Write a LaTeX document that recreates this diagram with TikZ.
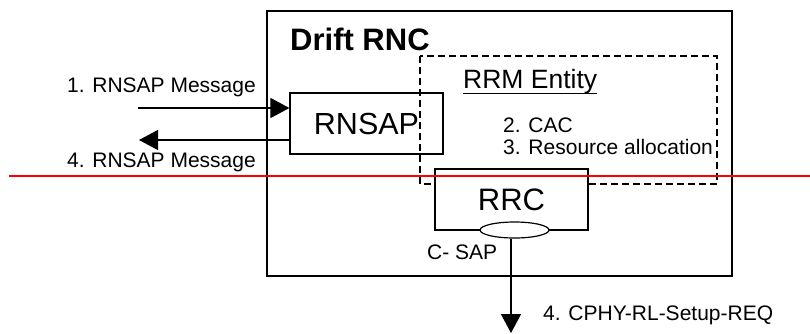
\documentclass[tikz,border=0pt]{standalone}
\usepackage{fontspec}
\setmainfont{Liberation Sans}
\usetikzlibrary{arrows.meta,shapes.geometric}
\tikzset{
  unitbox/.style     = {draw, line width=1.2pt, inner sep=0pt},
  entitybox/.style   = {draw, line width=1.4pt, dash pattern=on 7pt off 4pt},
  msglabel/.style    = {inner sep=0pt, font=\fontsize{21}{25}\selectfont},
  msgarrow/.style    = {line width=1.3pt, -{Triangle[length=19pt,width=20pt]}},
}
\begin{document}
\begin{tikzpicture}[x=1pt, y=-1pt]
        \useasboundingbox (0,0) rectangle (810,333);
        \coordinate (inbegin)   at (138, 108);
        \coordinate (outend)    at (139, 140);
        \coordinate (cphyend)   at (511, 333);
        \coordinate (redleft)   at (9,   176);
        \coordinate (redright)  at (810, 176);
        % Drift RNC
        \node[unitbox, minimum width=465pt, minimum height=265pt] (rnc) at (499.5, 143.5) {};
        \node[inner sep=0pt, anchor=base west, font=\fontsize{31}{36}\selectfont\bfseries] (rnctitle) at (290, 50) {Drift RNC};
        % RRM entity
        \draw[entitybox] (420, 56) rectangle (717, 184);
        \node[inner sep=0pt, anchor=base west, font=\fontsize{26.5}{30}\selectfont] (rrmtitle) at (463, 88) {RRM Entity};
        \draw[line width=1.2pt] (rrmtitle.south west) -- (rrmtitle.south east);
        \node[msglabel, anchor=base west] (cac) at (503, 132) {2. CAC};
        \node[msglabel, anchor=base west] (alloc) at (503, 154) {3. Resource allocation};
        % RNSAP and RRC
        \node[unitbox, minimum width=153pt, minimum height=61pt, font=\fontsize{30.5}{35}\selectfont] (rnsap) at (366.5, 123.5) {RNSAP};
        \node[unitbox, fill=white, minimum width=153pt, minimum height=61pt, font=\fontsize{31}{36}\selectfont] (rrc) at (511.5, 199.5) {RRC};
        \node[draw, ellipse, line width=1.2pt, fill=white, minimum width=69pt, minimum height=16pt, inner sep=0pt] (csap) at (514.5, 230) {};
        \node[msglabel, anchor=base west] (csaplabel) at (427, 259) {C- SAP};
        % messages
        \draw[msgarrow] (inbegin) -- (inbegin -| rnsap.west);
        \draw[msgarrow] (outend -| rnsap.west) -- (outend);
        \draw[msgarrow] (csap.south -| cphyend) -- (cphyend);
        \node[msglabel, anchor=base east] (inlabel) at (256, 92) {1. RNSAP Message};
        \node[msglabel, anchor=base east] (outlabel) at (256, 167) {4. RNSAP Message};
        \node[msglabel, anchor=base west] (cphylabel) at (543, 320) {4. CPHY-RL-Setup-REQ};
        % red line
        \draw[red, line width=2pt] (redleft) -- (redright);
\end{tikzpicture}
\end{document}
